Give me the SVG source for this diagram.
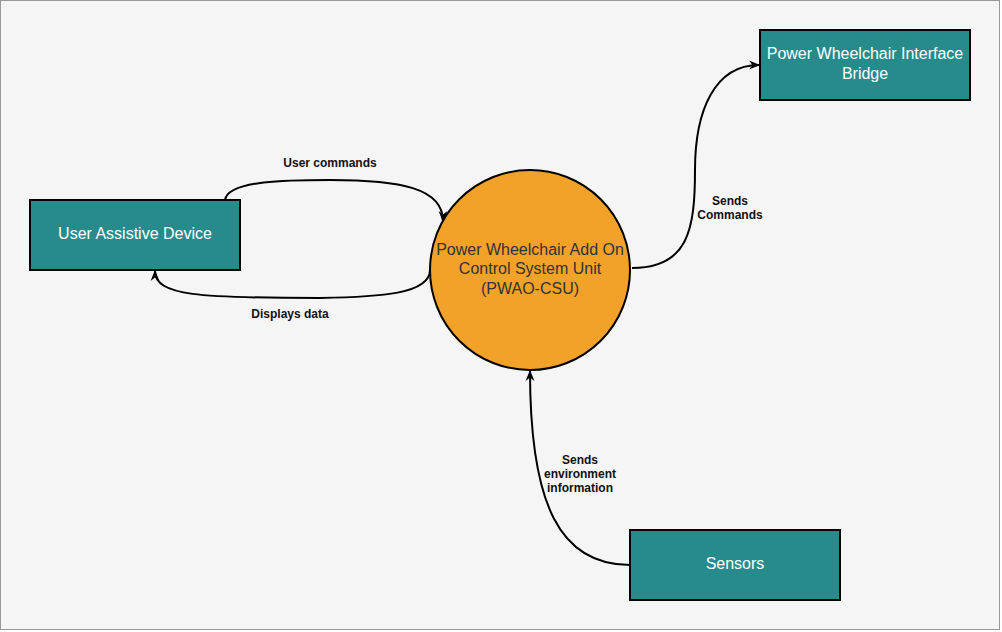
<svg xmlns="http://www.w3.org/2000/svg" width="1002" height="632" viewBox="0 0 1002 632">
<style>
.box{fill:#288b8b;stroke:#000;stroke-width:2}
.nt{font-family:"Liberation Sans",Arial,sans-serif;font-size:16px;fill:#fff;text-anchor:middle}
.ct{font-family:"Liberation Sans",Arial,sans-serif;font-size:16px;fill:#333;text-anchor:middle}
.lbl{font-family:"Liberation Sans",Arial,sans-serif;font-size:12px;font-weight:bold;fill:#111;text-anchor:middle}
.edge{fill:none;stroke:#000;stroke-width:2}
</style>
<defs>
<marker id="arr" viewBox="0 0 10 10" refX="9" refY="5" markerWidth="11" markerHeight="11" markerUnits="userSpaceOnUse" orient="auto">
<path d="M0,1 L10,5 L0,9 L3,5 Z" fill="#000"/>
</marker>
</defs>
<rect x="0.5" y="0.5" width="999" height="629" fill="#f5f5f5" stroke="#999" stroke-width="1"/>
<g id="connectors">
<path class="edge" marker-end="url(#arr)" d="M225 200 C228 180 290 180 330 180 C400 180 443 188 443 221"/>
<path class="edge" marker-end="url(#arr)" d="M430 270 C430 294 380 297 320 298 C200 298 155 296 155 271"/>
<path class="edge" marker-end="url(#arr)" d="M632 268 C688 268 695 230 695 170 C695 110 715 65 759 65"/>
<path class="edge" marker-end="url(#arr)" d="M630 565 C560 565 530 505 530 371"/>
</g>
<g id="lbl-user-commands"><text class="lbl" x="330" y="167">User commands</text></g>
<g id="lbl-displays"><text class="lbl" x="290" y="318">Displays data</text></g>
<g id="lbl-sends-commands"><text class="lbl" x="730" y="205">Sends</text><text class="lbl" x="730" y="219">Commands</text></g>
<g id="lbl-env"><text class="lbl" x="580" y="464">Sends</text><text class="lbl" x="580" y="478">environment</text><text class="lbl" x="580" y="492">information</text></g>
<g id="user-assistive-device">
<rect class="box" x="30" y="200" width="210" height="70"/>
<text class="nt" x="135" y="239">User Assistive Device</text>
</g>
<g id="pwao-csu">
<circle cx="530" cy="270" r="100" fill="#f2a229" stroke="#000" stroke-width="2"/>
<text class="ct" x="530" y="255">Power Wheelchair Add On</text>
<text class="ct" x="530" y="274">Control System Unit</text>
<text class="ct" x="530" y="294">(PWAO-CSU)</text>
</g>
<g id="pwib">
<rect class="box" x="760" y="30" width="210" height="70"/>
<text class="nt" x="865" y="59">Power Wheelchair Interface</text>
<text class="nt" x="865" y="79">Bridge</text>
</g>
<g id="sensors">
<rect class="box" x="630" y="530" width="210" height="70"/>
<text class="nt" x="735" y="569">Sensors</text>
</g>
</svg>
